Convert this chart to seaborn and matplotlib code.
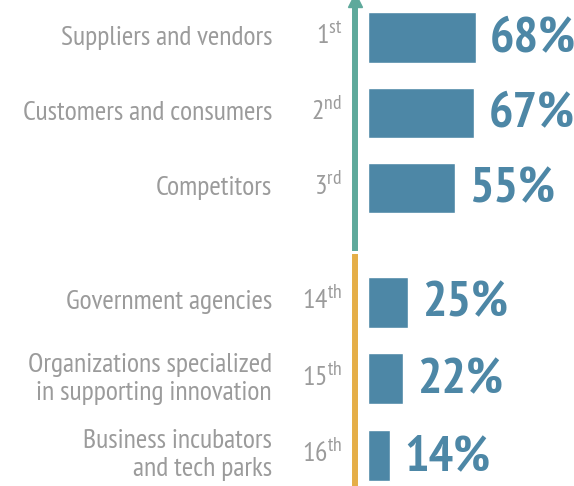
import pandas as pd
import matplotlib
matplotlib.use('Agg')
import matplotlib.pyplot as plt
import seaborn as sns
from matplotlib import font_manager

# chart data
categories = ['Suppliers and vendors', 'Customers and consumers', 'Competitors',
              'Government agencies', 'Organizations specialized\nin supporting innovation',
              'Business incubators\nand tech parks']
ranks = ['1st', '2nd', '3rd', '14th', '15th', '16th']
values = [68, 67, 55, 25, 22, 14]
groups = ['top', 'top', 'top', 'bottom', 'bottom', 'bottom']

df = pd.DataFrame({'category': categories, 'rank': ranks, 'value': values, 'group': groups})

sns.set_theme(style='white')

names = {f.name for f in font_manager.fontManager.ttflist}
font = 'DejaVu Sans'
for cand in ['PT Sans Narrow', 'Fira Sans Condensed', 'Asap Condensed', 'Liberation Sans Narrow']:
    if cand in names:
        font = cand
        break
plt.rcParams['font.family'] = [font, 'DejaVu Sans']
plt.rcParams['mathtext.fontset'] = 'custom'
plt.rcParams['mathtext.rm'] = font
plt.rcParams['mathtext.it'] = font

bar_color = '#4d87a6'
gray = '#9b9b9b'
line_colors = {'top': '#5ea99b', 'bottom': '#e5ae47'}

fig = plt.figure(figsize=(5.74, 4.86), dpi=100)
ax_top = fig.add_axes([0.6185, 0.4897, 0.3815, 0.5103])
ax_bot = fig.add_axes([0.6185, 0.0, 0.3815, 0.4712])

x_right = 129.7
x_left = -8.2

for ax, grp, ylim in [(ax_top, 'top', (2.8, -0.5)), (ax_bot, 'bottom', (2.4, -0.59))]:
    sub = df[df['group'] == grp].reset_index(drop=True)
    sns.barplot(data=sub, x='value', y='category', orient='h', color=bar_color,
                saturation=1, width=0.67, ax=ax)
    ax.set_xlim(x_left, x_right)
    ax.set_ylim(*ylim)
    ax.set_xlabel('')
    ax.set_ylabel('')
    ax.set_xticks([])
    ax.set_yticks([])
    for s in ['top', 'right', 'bottom']:
        ax.spines[s].set_visible(False)
    ax.spines['left'].set_color(line_colors[grp])
    ax.spines['left'].set_linewidth(4.3)
    ax.patch.set_alpha(0)

    for i, row in sub.iterrows():
        num = row['rank'][:-2]
        suf = row['rank'][-2:]
        ax.annotate(row['category'], xy=(0, i), xycoords=('axes fraction', 'data'),
                    xytext=(-83, 0), textcoords='offset pixels', ha='right', va='center',
                    fontsize=20, color=gray, linespacing=1.2)
        ax.annotate(num + r'$^{\mathrm{' + suf + '}}$', xy=(0, i),
                    xycoords=('axes fraction', 'data'), xytext=(-13, 2),
                    textcoords='offset pixels', ha='right', va='center',
                    fontsize=20, color=gray)
        ax.annotate(f"{row['value']}%", xy=(row['value'], i), xytext=(14, -2),
                    textcoords='offset pixels', ha='left', va='center',
                    fontsize=37, fontweight='bold', color=bar_color)

# arrow head on top of the teal line
ax_top.plot([0], [1.0], marker='^', markersize=10, color=line_colors['top'],
            transform=ax_top.transAxes, clip_on=False)

fig.savefig('out.png', dpi=100)
